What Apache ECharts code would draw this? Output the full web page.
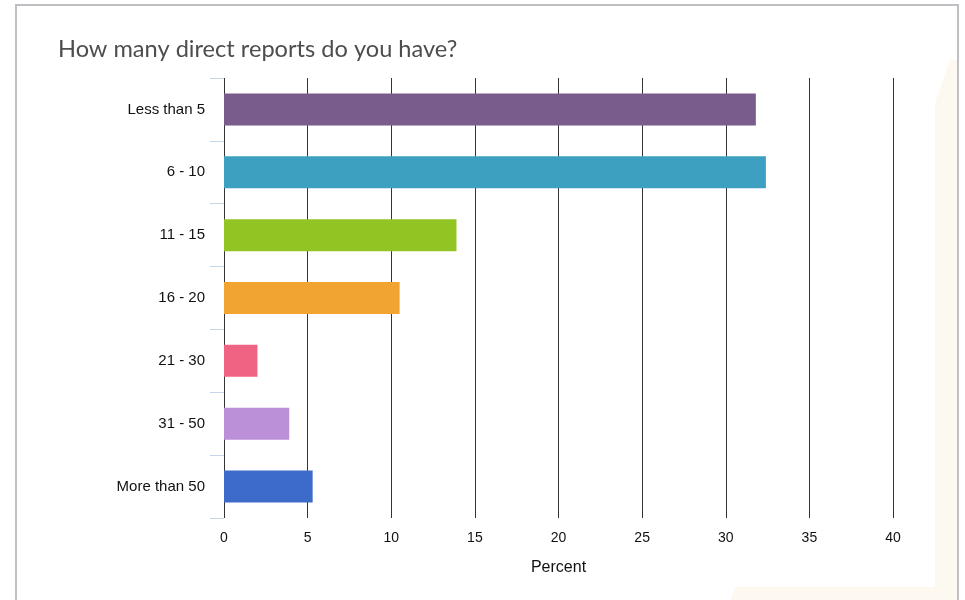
<!DOCTYPE html>
<html>
<head>
<meta charset="utf-8">
<script src="https://cdn.jsdelivr.net/npm/echarts@6/dist/echarts.min.js"></script>
<style>
  html, body { margin: 0; padding: 0; background: #fff; }
  #main { width: 965px; height: 600px; }
</style>
</head>
<body>
<div id="main"></div>
<script>
// answers, top to bottom as shown
const categories = ['Less than 5', '6 - 10', '11 - 15', '16 - 20', '21 - 30', '31 - 50', 'More than 50']
const percents = [31.8, 32.4, 13.9, 10.5, 2.0, 3.9, 5.3]
const barColors = ['#7a5c8c', '#3ea0c1', '#92c423', '#f1a431', '#ef6383', '#bb90d9', '#3d6bcc']

const chart = echarts.init(document.getElementById('main'))

const option = {
    backgroundColor: '#fff',
    animation: false,
    title: {
        text: 'How many direct reports do you have?',
        left: 53,
        top: 32,
        textStyle: {
            fontFamily: 'Lato',
            fontSize: 23.6,
            fontWeight: 'normal',
            color: '#4d4d4d'
        }
    },
    graphic: [
        {
            type: 'polygon',
            shape: { points: [[935, 103], [950, 60], [957, 60], [957, 600], [935, 600]] },
            style: { fill: '#fdf9f0' },
            silent: true
        },
        {
            type: 'polygon',
            shape: { points: [[735, 587], [957, 587], [957, 600], [731, 600]] },
            style: { fill: '#fdf9f0' },
            silent: true
        },
        {
            type: 'rect',
            shape: { x: 16, y: 5, width: 942, height: 640 },
            style: { fill: 'none', stroke: '#c0c0c4', lineWidth: 2 },
            silent: true
        }
    ],
    grid: {
        left: 224,
        right: 72,
        top: 78,
        bottom: 82
    },
    xAxis: {
        type: 'value',
        min: 0,
        max: 40,
        interval: 5,
        name: 'Percent',
        nameLocation: 'middle',
        nameGap: 42,
        nameTextStyle: { fontFamily: 'Liberation Sans', fontSize: 16, color: '#111' },
        axisLine: { show: false },
        axisTick: { show: false },
        axisLabel: {
            margin: 13,
            fontFamily: 'Liberation Sans',
            fontSize: 14,
            color: '#111'
        },
        splitLine: {
            show: true,
            lineStyle: { color: '#333', width: 1 }
        }
    },
    yAxis: {
        type: 'category',
        inverse: true,
        data: categories,
        axisLine: { show: false },
        axisTick: {
            show: true,
            length: 14,
            lineStyle: { color: '#c4d6e8', width: 1 }
        },
        axisLabel: {
            margin: 19,
            fontFamily: 'Liberation Sans',
            fontSize: 15,
            color: '#111'
        }
    },
    series: [
        {
            type: 'bar',
            barWidth: 32,
            data: percents.map((v, i) => ({
                value: v,
                itemStyle: { color: barColors[i] }
            })),
            silent: true
        }
    ]
}

chart.setOption(option)
</script>
</body>
</html>
